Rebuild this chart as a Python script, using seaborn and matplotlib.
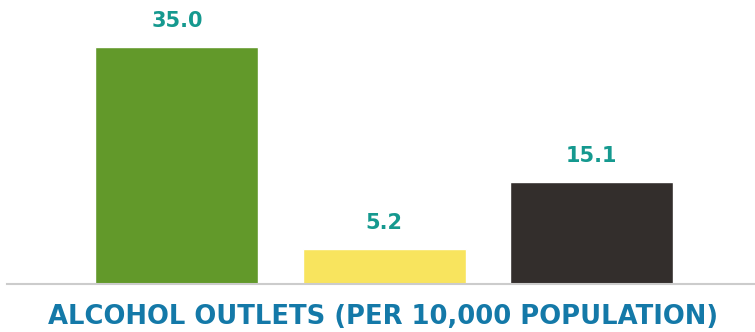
import matplotlib
matplotlib.use("Agg")
import matplotlib.pyplot as plt
import seaborn as sns
import pandas as pd

categories = ["A", "B", "C"]
values = [35.0, 5.2, 15.1]
labels = ["35.0", "5.2", "15.1"]
colors = ["#62992a", "#f8e45e", "#332e2c"]
title = "ALCOHOL OUTLETS (PER 10,000 POPULATION)"

sns.set_style("white")
plt.rcParams['font.family'] = ['DejaVu Sans']

df = pd.DataFrame({"cat": categories, "val": values})
fig = plt.figure(figsize=(7.55, 3.32), dpi=100)
ax = fig.add_axes([7/755, 48/332, 748/755, 1 - 48/332 - 0.0])
sns.barplot(data=df, x="cat", y="val", hue="cat", palette=colors, width=0.787,
            legend=False, ax=ax, saturation=1)
ax.set_xlim(-0.82, 2.79)
ax.set_ylim(0, 284/6.77)
for i, (v, t) in enumerate(zip(values, labels)):
    ax.annotate(t, (i, v), xytext=(0, 11.5), textcoords="offset points", ha="center",
                va="bottom", color="#15998f", fontsize=15, fontweight="bold")
ax.set_xticks([]); ax.set_yticks([])
ax.set_xlabel(""); ax.set_ylabel("")
for s in ["top", "left", "right"]:
    ax.spines[s].set_visible(False)
ax.spines["bottom"].set_color("#cccccc")
ax.spines["bottom"].set_linewidth(1.5)
fig.text(383/755, 1 - 317/332, title, ha="center", va="center", color="#1479a8",
         fontsize=18.6, fontweight="bold")
fig.savefig("out.png", dpi=100)
